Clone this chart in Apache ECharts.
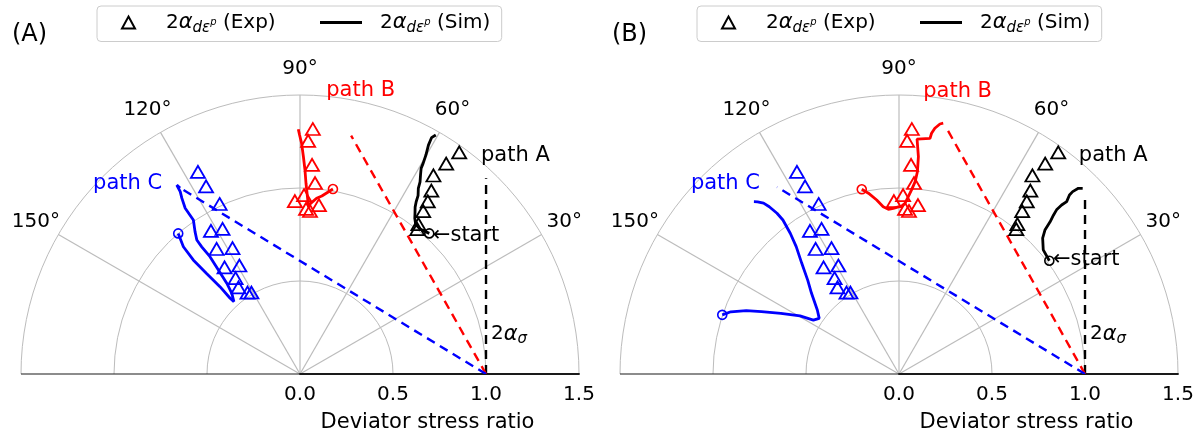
<!DOCTYPE html>
<html>
<head>
<meta charset="utf-8">
<script src="https://cdn.jsdelivr.net/npm/echarts@6/dist/echarts.min.js"></script>
<style>
  html, body { margin: 0; padding: 0; background: #fff; }
  #chart { width: 1199px; height: 434px; }
</style>
</head>
<body>
<div id="chart"></div>
<script>
// ---- data: [deviator stress ratio, direction in degrees] ----
// experimental plastic strain increment directions (same tests in both panels)
const expPathA = [[1.467, 54.3], [1.377, 55.2], [1.286, 56.1], [1.213, 54.4], [1.155, 53.5], [1.098, 52.9], [1.027, 51.7], [1.002, 51.0]];
const expPathB = [[1.319, 87.0], [1.254, 88.0], [1.126, 86.7], [1.030, 85.5], [0.962, 88.7], [0.930, 91.7], [0.914, 83.6], [0.888, 87.9], [0.878, 86.5]];
const expPathC = [[1.217, 116.8], [1.128, 116.6], [1.011, 115.3], [0.906, 121.9], [0.884, 118.1], [0.808, 123.7], [0.768, 118.2], [0.702, 125.3], [0.668, 119.2], [0.621, 123.9], [0.571, 125.4], [0.521, 122.8], [0.510, 120.8]];

// simulated directions, model (A)
const simA_pathA = [[1.027, 47.4], [1.012, 50.4], [1.017, 52.3], [1.040, 53.6], [1.062, 54.4], [1.090, 55.4], [1.117, 56.0], [1.150, 56.5], [1.184, 57.5], [1.218, 58.0], [1.251, 58.8], [1.283, 59.5], [1.313, 59.7], [1.358, 60.1], [1.411, 60.7], [1.454, 60.9], [1.478, 60.4]];
const simA_pathB = [[1.010, 79.9], [0.964, 83.0], [0.949, 84.6], [0.916, 86.6], [0.899, 87.1], [0.954, 87.6], [1.026, 88.2], [1.097, 88.6], [1.168, 89.1], [1.240, 89.6], [1.285, 90.1], [1.316, 90.4]];
const simA_pathC = [[1.000, 130.9], [0.928, 132.5], [0.840, 133.1], [0.738, 132.9], [0.637, 132.5], [0.554, 132.7], [0.527, 132.4], [0.568, 130.2], [0.627, 128.9], [0.711, 128.1], [0.795, 127.5], [0.864, 127.7], [0.909, 127.6], [0.951, 126.4], [1.007, 124.7], [1.040, 124.7], [1.084, 124.7], [1.139, 123.9], [1.173, 123.3], [1.213, 123.1], [1.190, 122.8]];

// simulated directions, model (B)
const simB_pathA = [[1.012, 37.0], [1.023, 40.7], [1.063, 43.4], [1.102, 44.6], [1.153, 45.2], [1.191, 45.8], [1.226, 46.2], [1.261, 46.1], [1.293, 45.8], [1.329, 46.4], [1.354, 46.4], [1.388, 46.0], [1.404, 45.3]];
const simB_pathB = [[1.013, 101.4], [0.986, 99.6], [0.943, 97.3], [0.903, 95.4], [0.887, 93.7], [0.891, 92.0], [0.899, 90.2], [0.903, 89.1], [0.918, 88.0], [0.955, 87.0], [0.992, 86.1], [1.038, 85.2], [1.092, 84.8], [1.173, 84.9], [1.266, 85.6], [1.278, 82.5], [1.306, 82.3], [1.335, 81.7], [1.362, 80.7], [1.369, 80.0]];
const simB_pathC = [[1.002, 161.5], [0.964, 159.7], [0.889, 157.5], [0.812, 155.6], [0.714, 152.8], [0.617, 149.6], [0.544, 147.8], [0.523, 145.1], [0.558, 141.9], [0.640, 137.3], [0.704, 134.2], [0.792, 131.3], [0.880, 128.9], [0.955, 127.7], [1.037, 127.0], [1.085, 127.2], [1.138, 127.8], [1.172, 128.4], [1.198, 129.4], [1.211, 130.1]];

// stress direction guides (2α_σ) drawn from ratio 1.0, per path
const sigmaA = { pathA: [[1, 0], [1.452, 46.45]], pathB: [[1, 0], [1.311, 77.9]], pathC: [[1, 0], [1.190, 122.8]] };
const sigmaB = { pathA: [[1, 0], [1.388, 43.9]], pathB: [[1, 0], [1.342, 78.9]], pathC: [[1, 0], [1.200, 123.1]] };

// axis ticks
const radiusTicks = [0, 0.5, 1.0, 1.5];
const angleTicks = [0, 30, 60, 90, 120, 150, 180];
const angleTickLabels = ['', '30°', '60°', '90°', '120°', '150°', ''];

// text notes anchored in polar data space [ratio, degrees]
const notesA = [
  { text: 'path A', at: [1.527, 50.4], color: '#000000' },
  { text: 'path B', at: [1.528, 84.7], color: '#ff0000' },
  { text: 'path C', at: [1.511, 137.4], color: '#0000ff' },
  { text: '←start', at: [1.030, 46.1], color: '#000000' },
  { text: '{n|2}{g|α}{s|σ}', at: [1.049, 11.8], color: '#000000' }
];
const notesB = [
  { text: 'path A', at: [1.523, 50.6], color: '#000000' },
  { text: 'path B', at: [1.523, 85.1], color: '#ff0000' },
  { text: 'path C', at: [1.515, 137.6], color: '#0000ff' },
  { text: '←start', at: [1.030, 36.5], color: '#000000' },
  { text: '{n|2}{g|α}{s|σ}', at: [1.049, 11.8], color: '#000000' }
];

// ---- styling ----
const FONT = 'DejaVu Sans';
const GRID = '#bcbcbc';
const BLACK = '#000000', RED = '#ff0000', BLUE = '#0000ff';
const TICK_LABEL_RADIUS = 1.64;   // angle labels sit just outside the outer ring

const mathRich = {
  n: { fontFamily: FONT, fontSize: 20, color: '#000', lineHeight: 26 },
  g: { fontFamily: FONT, fontSize: 21, fontStyle: 'italic', color: '#000', lineHeight: 26 },
  s: { fontFamily: FONT, fontSize: 15, fontStyle: 'italic', color: '#000', verticalAlign: 'bottom', lineHeight: 19 },
  p: { fontFamily: FONT, fontSize: 10, fontStyle: 'italic', color: '#000', verticalAlign: 'middle', lineHeight: 20 }
};

function expSeries(polarIndex, color, data) {
  return {
    type: 'scatter', name: 'Exp', coordinateSystem: 'polar', polarIndex, data,
    symbol: 'triangle', symbolSize: [14, 12],
    itemStyle: { color: 'rgba(0,0,0,0)', borderColor: color, borderWidth: 1.8, opacity: 1 },
    z: 3
  };
}
function simSeries(polarIndex, color, data) {
  return {
    type: 'line', name: 'Sim', coordinateSystem: 'polar', polarIndex, data,
    symbol: 'none', lineStyle: { color, width: 2.8 }, itemStyle: { color },
    z: 4
  };
}
function startMark(polarIndex, color, data) {
  return {
    type: 'scatter', name: 'start', coordinateSystem: 'polar', polarIndex, data: [data[0]],
    symbol: 'circle', symbolSize: 9,
    itemStyle: { color: 'rgba(0,0,0,0)', borderColor: color, borderWidth: 1.6, opacity: 1 },
    z: 5
  };
}
function guideSeries(polarIndex, color, data) {
  return {
    type: 'line', name: 'guide', coordinateSystem: 'polar', polarIndex, data,
    symbol: 'none', lineStyle: { color, width: 2.4, type: [9, 6] }, z: 2
  };
}
function noteSeries(polarIndex, notes) {
  return {
    type: 'scatter', name: 'notes', coordinateSystem: 'polar', polarIndex,
    symbolSize: 0, silent: true, clip: false, z: 6,
    itemStyle: { opacity: 1 },
    data: notes.map(n => ({
      value: n.at,
      label: {
        show: true, position: 'right', distance: 0,
        formatter: n.text, color: n.color, fontFamily: FONT, fontSize: 21,
        rich: mathRich
      }
    }))
  };
}
// angular tick labels, centred on their direction just outside the outer ring
function angleLabelSeries(polarIndex) {
  return {
    type: 'scatter', name: 'angleLabels', coordinateSystem: 'polar', polarIndex,
    symbolSize: 0, silent: true, clip: false, z: 6,
    itemStyle: { opacity: 1 },
    data: angleTicks.map((t, i) => ({
      value: [TICK_LABEL_RADIUS, t],
      label: {
        show: angleTickLabels[i] !== '', position: 'inside',
        formatter: angleTickLabels[i], color: '#000', fontFamily: FONT, fontSize: 20
      }
    }))
  };
}

function panelSeries(p, sim, guides, notes) {
  return [
    expSeries(p, BLACK, expPathA),
    simSeries(p, BLACK, sim.pathA),
    expSeries(p, RED, expPathB),
    simSeries(p, RED, sim.pathB),
    expSeries(p, BLUE, expPathC),
    simSeries(p, BLUE, sim.pathC),
    startMark(p, BLACK, sim.pathA),
    startMark(p, RED, sim.pathB),
    startMark(p, BLUE, sim.pathC),
    guideSeries(p, BLACK, guides.pathA),
    guideSeries(p, RED, guides.pathB),
    guideSeries(p, BLUE, guides.pathC),
    noteSeries(p, notes),
    angleLabelSeries(p)
  ];
}

function angleAxis(p) {
  return {
    polarIndex: p, type: 'value', min: angleTicks[0], max: angleTicks[angleTicks.length - 1],
    interval: 30, startAngle: 0, endAngle: 180, clockwise: false,
    axisLine: { show: false }, axisTick: { show: false },
    axisLabel: { show: false },
    splitLine: { lineStyle: { color: angleTicks.map((t, i) => (i === angleTicks.length - 1 ? '#1a1a1a' : GRID)), width: 1.2 } }
  };
}
function radiusAxis(p) {
  return {
    polarIndex: p, type: 'value', min: radiusTicks[0], max: radiusTicks[radiusTicks.length - 1], interval: 0.5,
    axisLine: { lineStyle: { color: '#1a1a1a', width: 1.8 } },
    axisTick: { show: false },
    axisLabel: {
      fontFamily: FONT, fontSize: 20, color: '#000', margin: -11, verticalAlign: 'top',
      formatter: v => v.toFixed(1)
    },
    splitLine: { lineStyle: { color: GRID, width: 1 } },
    name: 'Deviator stress ratio', nameLocation: 'middle', nameGap: 38,
    nameTextStyle: { fontFamily: FONT, fontSize: 21, color: '#000', padding: [0, 24, 0, 0] }
  };
}

const legendLabel = name => '{n|2}{g|α}{s|dε}{p|p}{n| (' + name + ')}';
// framed legend entry for the experimental markers; its frame spans both entries
function legendExp(left) {
  return {
    left, top: 6, orient: 'horizontal',
    data: [{ name: 'Exp', icon: 'triangle' }],
    itemWidth: 13, itemHeight: 12,
    padding: [6, 226, 6, 24],
    borderColor: '#cccccc', borderWidth: 1, borderRadius: 4,
    selectedMode: false,
    formatter: legendLabel,
    textStyle: { fontFamily: FONT, fontSize: 20, color: '#000', rich: mathRich, padding: [0, 0, 0, 26] }
  };
}
// line entry for the simulations, placed inside the same frame
function legendSim(left) {
  return {
    left, top: 12, orient: 'horizontal', z: 5,
    data: [{ name: 'Sim', icon: 'rect' }],
    itemWidth: 42, itemHeight: 3,
    padding: 0,
    selectedMode: false,
    formatter: legendLabel,
    textStyle: { fontFamily: FONT, fontSize: 20, color: '#000', rich: mathRich, padding: [0, 0, 0, 13] }
  };
}

const chart = echarts.init(document.getElementById('chart'), null, { renderer: 'canvas' });
chart.setOption({
  animation: false,
  backgroundColor: '#ffffff',
  title: [
    { text: '(A)', left: 7, top: 18, textStyle: { fontFamily: FONT, fontSize: 24, fontWeight: 'normal', color: '#000' } },
    { text: '(B)', left: 607, top: 18, textStyle: { fontFamily: FONT, fontSize: 24, fontWeight: 'normal', color: '#000' } }
  ],
  legend: [legendExp(97), legendSim(320), legendExp(697), legendSim(920)],
  polar: [
    { center: [300, 374], radius: 279 },
    { center: [899, 374], radius: 279 }
  ],
  angleAxis: [angleAxis(0), angleAxis(1)],
  radiusAxis: [radiusAxis(0), radiusAxis(1)],
  series: [
    ...panelSeries(0, { pathA: simA_pathA, pathB: simA_pathB, pathC: simA_pathC }, sigmaA, notesA),
    ...panelSeries(1, { pathA: simB_pathA, pathB: simB_pathB, pathC: simB_pathC }, sigmaB, notesB)
  ]
});
</script>
</body>
</html>
